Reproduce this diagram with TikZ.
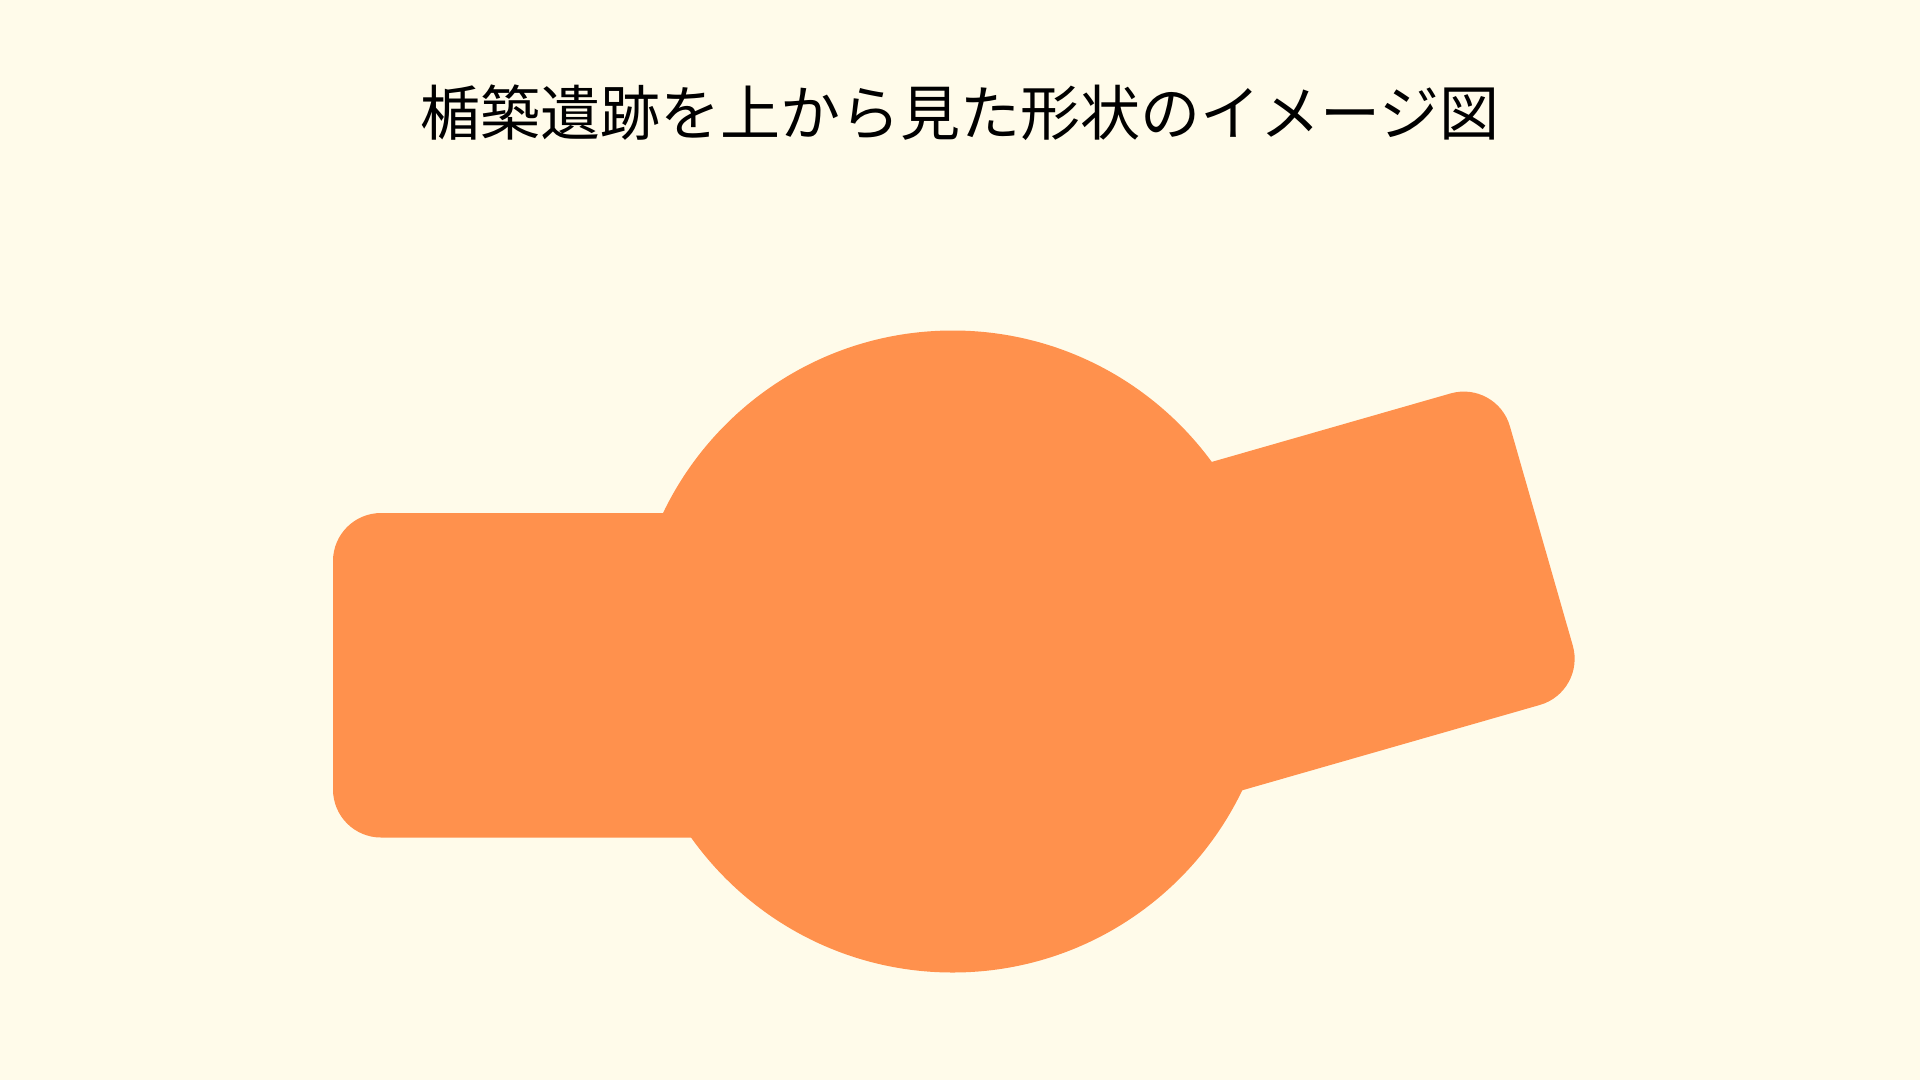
\documentclass[tikz,border=0pt]{standalone}
\usepackage{fontspec}
\newfontfamily\jpfont{Noto Sans CJK JP}
\definecolor{bgcream}{HTML}{FFFBEA}
\definecolor{moundorange}{HTML}{FF914D}
\begin{document}
\begin{tikzpicture}[x=1pt,y=-1pt,
  mound/.style={fill=moundorange,draw=none},
  titletext/.style={font=\jpfont\fontsize{60pt}{72pt}\selectfont,text=black,inner sep=0pt,anchor=base}]
\useasboundingbox (0,0) rectangle (1920,1080);
\fill[bgcream] (0,0) rectangle (1920,1080);
% left rectangular projection
\fill[mound,rounded corners=48pt] (333,513) rectangle (953,837.5);
% right rotated projection
\fill[mound,rounded corners=48pt] (952,536.4) -- (1496.7,380.2) -- (1586,691.7) -- (1041.3,847.9) -- cycle;
% central circular mound
\fill[mound] (952.7,651.5) circle[radius=321];
\node[titletext] (title) at (960,135) {楯築遺跡を上から見た形状のイメージ図};
\end{tikzpicture}
\end{document}
